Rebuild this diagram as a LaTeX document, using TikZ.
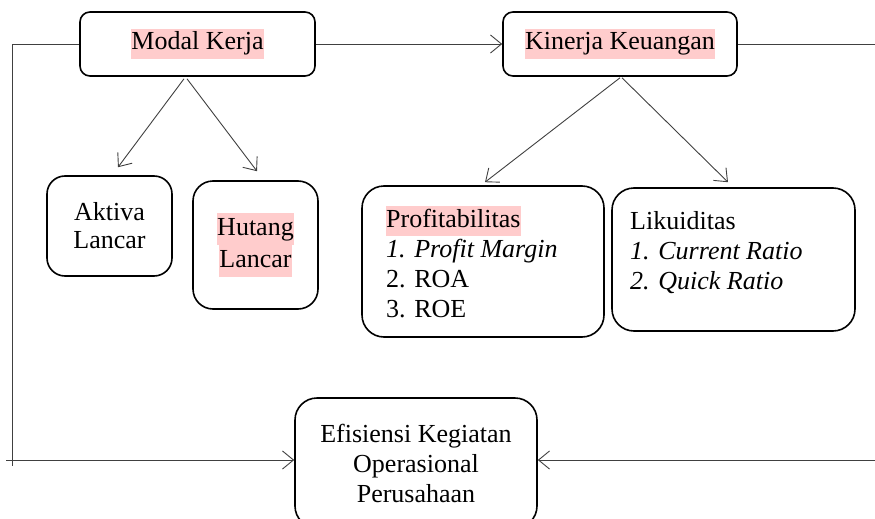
\documentclass[tikz,border=0pt]{standalone}
\usepackage{fontspec}
\setmainfont{Liberation Serif}
\usetikzlibrary{arrows.meta}
\definecolor{hlpink}{HTML}{FFCCCC}
\newcommand\hlt[1]{{\setlength{\fboxsep}{0pt}\colorbox{hlpink}{\strut #1}}}
\begin{document}
\begin{tikzpicture}[x=1pt,y=-1pt,
  box/.style={draw,line width=1.6pt,rounded corners=#1,inner sep=0pt,align=center,font=\fontsize{26}{30}\selectfont},
  box/.default=12pt,
  conn/.style={line width=0.9pt,draw=black!75},
  arr/.style={conn,-{Straight Barb[length=11pt,width=18pt,line width=0.9pt]}},
  txt/.style={inner sep=0pt,align=left,anchor=north west,font=\fontsize{26}{30}\selectfont}]
\useasboundingbox (0,0) rectangle (875,519);
% boxes
\node[box=10pt,minimum width=235pt,minimum height=64pt] (mk) at (197.5,44) {\hlt{Modal Kerja}};
\node[box=10pt,minimum width=234pt,minimum height=64pt] (kk) at (620,44) {\hlt{Kinerja Keuangan}};
\node[box=18pt,minimum width=125pt,minimum height=100pt,font=\fontsize{26}{28}\selectfont] (ak) at (109.5,226) {Aktiva\\Lancar};
\node[box=20pt,minimum width=125pt,minimum height=128pt,font=\fontsize{26}{32}\selectfont] (ht) at (255.5,245) {\hlt{Hutang}\\\hlt{Lancar}};
\node[box=22pt,minimum width=242pt,minimum height=151pt] (pr) at (483,261.5) {};
\node[box=22pt,minimum width=243pt,minimum height=143pt] (lk) at (733.5,259.5) {};
\node[box=22pt,minimum width=242pt,minimum height=130pt] (ef) at (416,463) {Efisiensi Kegiatan\\Operasional\\Perusahaan};
% box texts
\node[txt] (prt) at (386,206) {\hlt{Profitabilitas}\\\textit{1. Profit Margin}\\2. ROA\\3. ROE};
\node[txt] (lkt) at (630,208) {\strut Likuiditas\\\textit{1. Current Ratio}\\\textit{2. Quick Ratio}};
% free ends
\coordinate (lt) at (12,44);
\coordinate (lb) at (12,466);
\coordinate (ls) at (6,460);
\coordinate (rt) at (875,44);
\coordinate (rb) at (875,460);
% connectors
\draw[conn] (mk.west) -- (lt) -- (lb);
\draw[arr] (ls) -- (ls -| ef.west);
\draw[arr] (mk.east) -- (kk.west);
\draw[conn] (kk.east) -- (rt);
\draw[arr] (rb) -- (rb -| ef.east);
\draw[arr] ([xshift=-13.5pt,yshift=-2pt]mk.south) -- ([xshift=8.5pt,yshift=8pt]ak.north);
\draw[arr] ([xshift=-10.5pt,yshift=-2pt]mk.south) -- ([xshift=1.5pt,yshift=9pt]ht.north);
\draw[arr] ([yshift=-1pt]kk.south) -- ([xshift=2pt,yshift=3pt]pr.north);
\draw[arr] ([xshift=2pt,yshift=-1pt]kk.south) -- ([xshift=-5.5pt,yshift=5pt]lk.north);
\end{tikzpicture}
\end{document}
